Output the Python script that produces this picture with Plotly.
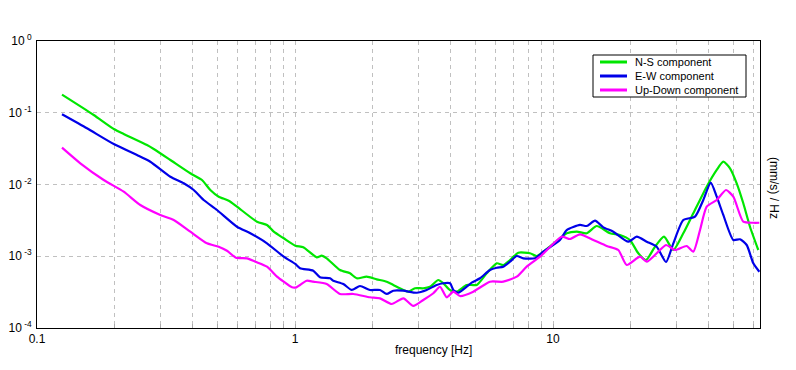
import plotly.graph_objects as go

# ---- data ----
ns_freq = [0.125, 0.1659, 0.1993, 0.2168, 0.2669, 0.2834, 0.3287, 0.3928, 0.436, 0.4696,
           0.5061, 0.5534, 0.5958, 0.7123, 0.7788, 0.827, 0.904, 1.003, 1.077, 1.214,
           1.269, 1.327, 1.494, 1.634, 1.734, 1.896, 2.073, 2.267, 2.404, 2.63,
           2.749, 2.918, 3.142, 3.336, 3.593, 3.757, 3.989, 4.234, 4.629, 5.061,
           5.534, 6.051, 6.418, 6.813, 7.337, 8.145, 8.647, 9.172, 10.64, 11.3,
           12.36, 13.51, 14.77, 16.63, 18.18, 19.88, 21.41, 22.94, 24.85, 26.93,
           29.27, 31.99, 34.98, 39.42, 43.11, 45.71, 48.53, 51.52, 54.65, 58.01, 62.47]
ns_amp = [0.1785, 0.093, 0.0588, 0.0506, 0.0355, 0.03125, 0.02196, 0.01433, 0.01155, 0.00838,
          0.00676, 0.00594, 0.00491, 0.00303, 0.00273, 0.0022, 0.00178, 0.001403, 0.001332, 0.000967,
          0.001018, 0.000936, 0.000643, 0.000579, 0.000493, 0.000519, 0.000477, 0.000442, 0.000398, 0.000339,
          0.000321, 0.000358, 0.000358, 0.000376, 0.000467, 0.00042, 0.000339, 0.000321, 0.000398, 0.000398,
          0.000579, 0.000797, 0.000755, 0.000887, 0.001121, 0.0011, 0.001008, 0.001157, 0.00178, 0.00209,
          0.0022, 0.00209, 0.00264, 0.00209, 0.00198, 0.00168, 0.0011, 0.000887, 0.001358, 0.001873,
          0.001222, 0.00209, 0.00397, 0.00932, 0.01593, 0.02078, 0.01682, 0.01039, 0.00547, 0.00258, 0.001222]

ew_freq = [0.125, 0.1562, 0.1993, 0.2441, 0.2749, 0.3287, 0.3704, 0.405, 0.4427, 0.4984,
           0.5958, 0.671, 0.7788, 0.904, 1.003, 1.046, 1.177, 1.25, 1.367, 1.407,
           1.539, 1.659, 1.786, 1.953, 2.135, 2.267, 2.404, 2.63, 2.963, 3.239,
           3.542, 3.757, 3.989, 4.108, 4.295, 4.629, 4.84, 5.213, 5.698, 6.051,
           6.418, 6.813, 7.233, 7.671, 8.515, 9.172, 10.64, 11.3, 12.72, 13.51,
           14.55, 15.67, 17.13, 19.58, 21.11, 23.08, 25.23, 27.42, 29.27, 31.99,
           35.51, 38.24, 40.86, 43.11, 45.71, 49.99, 53.06, 56.33, 59.76, 63.04]
ew_amp = [0.0951, 0.0607, 0.0363, 0.02577, 0.02078, 0.01284, 0.01039, 0.00838, 0.00608, 0.00441,
          0.00258, 0.00209, 0.001515, 0.000986, 0.00078, 0.000679, 0.000629, 0.000509, 0.000493, 0.000456,
          0.00041, 0.000339, 0.000385, 0.000339, 0.000339, 0.000298, 0.000331, 0.000331, 0.00031, 0.000339,
          0.000398, 0.00042, 0.00042, 0.000339, 0.00031, 0.000376, 0.000428, 0.000493, 0.000643, 0.000692,
          0.000715, 0.000839, 0.001008, 0.000936, 0.000936, 0.001157, 0.001684, 0.00232, 0.00273, 0.00264,
          0.00313, 0.00253, 0.0022, 0.001595, 0.001873, 0.001595, 0.001358, 0.000832, 0.001515, 0.0032,
          0.00356, 0.00608, 0.01059, 0.00676, 0.00376, 0.001684, 0.001722, 0.001435, 0.000797, 0.000609]

ud_freq = [0.125, 0.1472, 0.1814, 0.2168, 0.2514, 0.3006, 0.3387, 0.3928, 0.456, 0.5061,
           0.545, 0.5905, 0.6516, 0.7017, 0.7788, 0.8516, 0.904, 0.9736, 1.012, 1.046,
           1.11, 1.177, 1.327, 1.494, 1.683, 1.953, 2.135, 2.371, 2.63, 2.874,
           3.142, 3.436, 3.648, 3.873, 4.108, 4.36, 4.91, 5.698, 6.418, 7.233,
           7.908, 8.905, 10.81, 11.64, 12.72, 14.33, 16.15, 17.91, 19.31, 21.74,
           23.08, 25.23, 27.42, 29.71, 32.97, 34.98, 37.14, 39.42, 43.11, 46.83,
           49.99, 54.65, 59.76, 63.04]
ud_amp = [0.0326, 0.01974, 0.01155, 0.00794, 0.00518, 0.00376, 0.0032, 0.0022, 0.001515, 0.001358,
          0.001195, 0.000954, 0.000936, 0.000839, 0.000715, 0.000519, 0.000442, 0.000369, 0.000369, 0.000398,
          0.000456, 0.000442, 0.00041, 0.000298, 0.000298, 0.000268, 0.000259, 0.000216, 0.000259, 0.000203,
          0.000246, 0.000305, 0.000376, 0.000268, 0.000321, 0.000279, 0.000321, 0.000442, 0.000442, 0.000519,
          0.000715, 0.000986, 0.001873, 0.001739, 0.002022, 0.001684, 0.001389, 0.001222, 0.000755, 0.000986,
          0.000839, 0.0011, 0.001435, 0.001222, 0.001389, 0.001157, 0.00232, 0.00491, 0.00608, 0.00838,
          0.00676, 0.00303, 0.00293, 0.00293]

series_names = ["N-S component", "E-W component", "Up-Down component"]
series_colors = ["#00e600", "#0000e8", "#ff00ff"]

x_major_vals = [0.1, 1, 10]
x_major_text = ["0.1", "1", "10"]
x_minor_vals = [m * 10 ** e for e in (-1, 0, 1) for m in range(2, 10)]
y_tick_vals = [1, 0.1, 0.01, 0.001, 0.0001]
y_tick_text = ["10<sup> 0</sup>", "10<sup> -1</sup>", "10<sup> -2</sup>", "10<sup> -3</sup>", "10<sup> -4</sup>"]

FONT = "Liberation Sans, Arial, sans-serif"

# plot-area geometry in page pixels (the page body adds an 8px offset)
OFF = 8
PL, PR, PT, PB = 37, 760, 41, 328
PW, PH = PR - PL, PB - PT


def px(xp):
    return (xp - PL) / PW


def py(yp):
    return (PB - yp) / PH


fig = go.Figure()
for fx, fy, name, col in zip([ns_freq, ew_freq, ud_freq], [ns_amp, ew_amp, ud_amp],
                             series_names, series_colors):
    fig.add_trace(go.Scatter(x=fx, y=fy, mode="lines", name=name, showlegend=False,
                             line=dict(color=col, width=2.2, shape="spline", smoothing=0.6)))

# legend drawn as box + line samples + labels
shapes = [dict(type="rect", xref="paper", yref="paper",
               x0=px(593), x1=px(746), y0=py(55), y1=py(97),
               line=dict(color="black", width=1), fillcolor="white", layer="above")]
annotations = []
for i, (name, col) in enumerate(zip(series_names, series_colors)):
    yy = 62 + 14 * i
    shapes.append(dict(type="line", xref="paper", yref="paper",
                       x0=px(600), x1=px(627), y0=py(yy), y1=py(yy),
                       line=dict(color=col, width=3), layer="above"))
    annotations.append(dict(text=name, xref="paper", yref="paper",
                            x=px(633), y=py(yy), xanchor="left", yanchor="middle",
                            showarrow=False, font=dict(family=FONT, size=11, color="black")))

annotations += [
    dict(text="frequency [Hz]", xref="paper", yref="paper",
         x=px(433.5), y=py(350), xanchor="center", yanchor="middle",
         showarrow=False, font=dict(family=FONT, size=12)),
    dict(text="(mm/s) / Hz", xref="paper", yref="paper",
         x=px(774), y=py(188), xanchor="center", yanchor="middle",
         textangle=90, showarrow=False, font=dict(family=FONT, size=12)),
]

grid = dict(gridcolor="#c0c0c0", griddash="4px,4px", gridwidth=1)

fig.update_layout(
    width=796, height=370,
    margin=dict(l=PL - OFF, r=796 - PR + OFF, t=PT - OFF, b=370 - PB + OFF, autoexpand=False),
    paper_bgcolor="white", plot_bgcolor="white",
    font=dict(family=FONT, size=11, color="black"),
    showlegend=False,
    xaxis=dict(type="log", range=[-1, 1.8023], automargin=False,
               tickvals=x_major_vals, ticktext=x_major_text,
               ticks="inside", ticklen=4, tickcolor="#aaaaaa",
               showgrid=True, **grid,
               minor=dict(tickvals=x_minor_vals, ticks="inside", ticklen=4, tickcolor="#aaaaaa",
                          showgrid=True, **grid),
               showline=True, linecolor="black", linewidth=1, mirror=True,
               zeroline=False, tickfont=dict(size=12)),
    yaxis=dict(type="log", range=[-4, 0], automargin=False,
               tickvals=y_tick_vals, ticktext=y_tick_text, ticks="",
               ticklabelstandoff=2,
               showgrid=True, **grid,
               showline=True, linecolor="black", linewidth=1, mirror=True,
               zeroline=False, tickfont=dict(size=12)),
    shapes=shapes,
    annotations=annotations,
)

fig.write_html("out.html")
